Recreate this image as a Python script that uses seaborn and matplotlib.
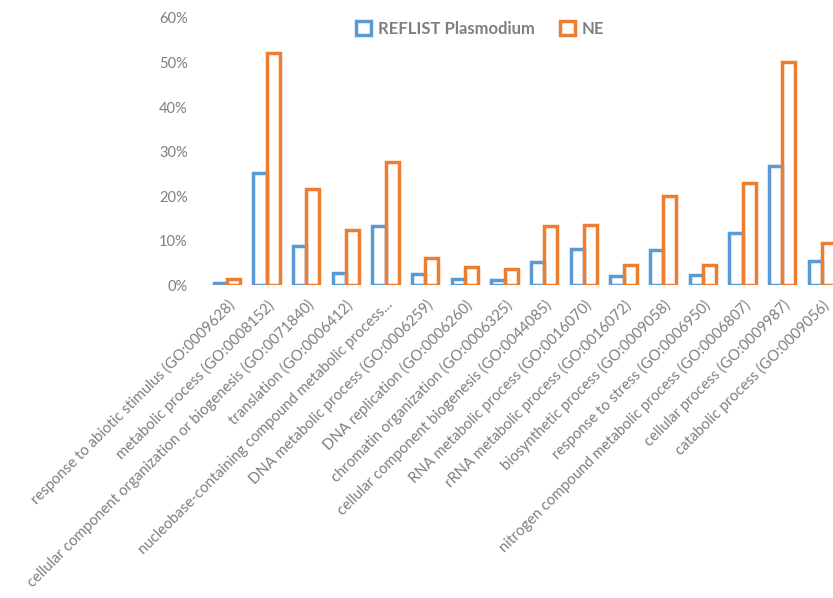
import pandas as pd
import matplotlib
matplotlib.use('Agg')
import matplotlib.pyplot as plt
import seaborn as sns
from matplotlib.ticker import FuncFormatter

categories = [
    'response to abiotic stimulus (GO:0009628)',
    'metabolic process (GO:0008152)',
    'cellular component organization or biogenesis (GO:0071840)',
    'translation (GO:0006412)',
    'nucleobase-containing compound metabolic process...',
    'DNA metabolic process (GO:0006259)',
    'DNA replication (GO:0006260)',
    'chromatin organization (GO:0006325)',
    'cellular component biogenesis (GO:0044085)',
    'RNA metabolic process (GO:0016070)',
    'rRNA metabolic process (GO:0016072)',
    'biosynthetic process (GO:0009058)',
    'response to stress (GO:0006950)',
    'nitrogen compound metabolic process (GO:0006807)',
    'cellular process (GO:0009987)',
    'catabolic process (GO:0009056)',
]
reflist = [0.4, 25.2, 8.8, 2.8, 13.3, 2.6, 1.3, 1.2, 5.2, 8.1, 2.0, 7.9, 2.2, 11.8, 26.7, 5.4]
ne = [1.5, 52.1, 21.6, 12.4, 27.6, 6.1, 4.0, 3.7, 13.3, 13.6, 4.5, 20.0, 4.5, 22.9, 50.0, 9.5]
series = ['REFLIST Plasmodium', 'NE']

df = pd.DataFrame({
    'category': categories * 2,
    'value': reflist + ne,
    'series': [series[0]] * len(categories) + [series[1]] * len(categories),
})

sns.set_style('white')
plt.rcParams['font.family'] = ['Lato', 'DejaVu Sans']

fig = plt.figure(figsize=(8.33, 5.98), dpi=100)
ax = fig.add_axes([0.2485, 0.523, 0.762, 0.447])

sns.barplot(data=df, x='category', y='value', hue='series', order=categories,
            palette=['#5B9BD5', '#ED7D31'], fill=False, width=0.66,
            linewidth=2.5, errorbar=None, ax=ax)

ax.set_ylim(0, 60)
ax.set_yticks(range(0, 61, 10))
ax.yaxis.set_major_formatter(FuncFormatter(lambda v, p: f'{v:.0f}%'))
ax.set_xlim(-0.5, len(categories) - 0.5)
ax.set_xlabel('')
ax.set_ylabel('')
for s in ax.spines.values():
    s.set_visible(False)
ax.tick_params(axis='both', length=0, colors='#7f7f7f')
ax.tick_params(axis='y', pad=14, labelsize=10.5)
ax.tick_params(axis='x', pad=9, labelsize=10.7)
plt.setp(ax.get_xticklabels(), rotation=45, ha='right', rotation_mode='anchor')

leg = ax.legend(loc='center', bbox_to_anchor=(0.43, 0.96), ncol=2, frameon=False,
                fontsize=12, handlelength=0.9, handleheight=0.9, columnspacing=1.5,
                handletextpad=0.4)
for t in leg.get_texts():
    t.set_color('#7f7f7f')
    t.set_fontweight('bold')

fig.savefig('out.png', dpi=100)
